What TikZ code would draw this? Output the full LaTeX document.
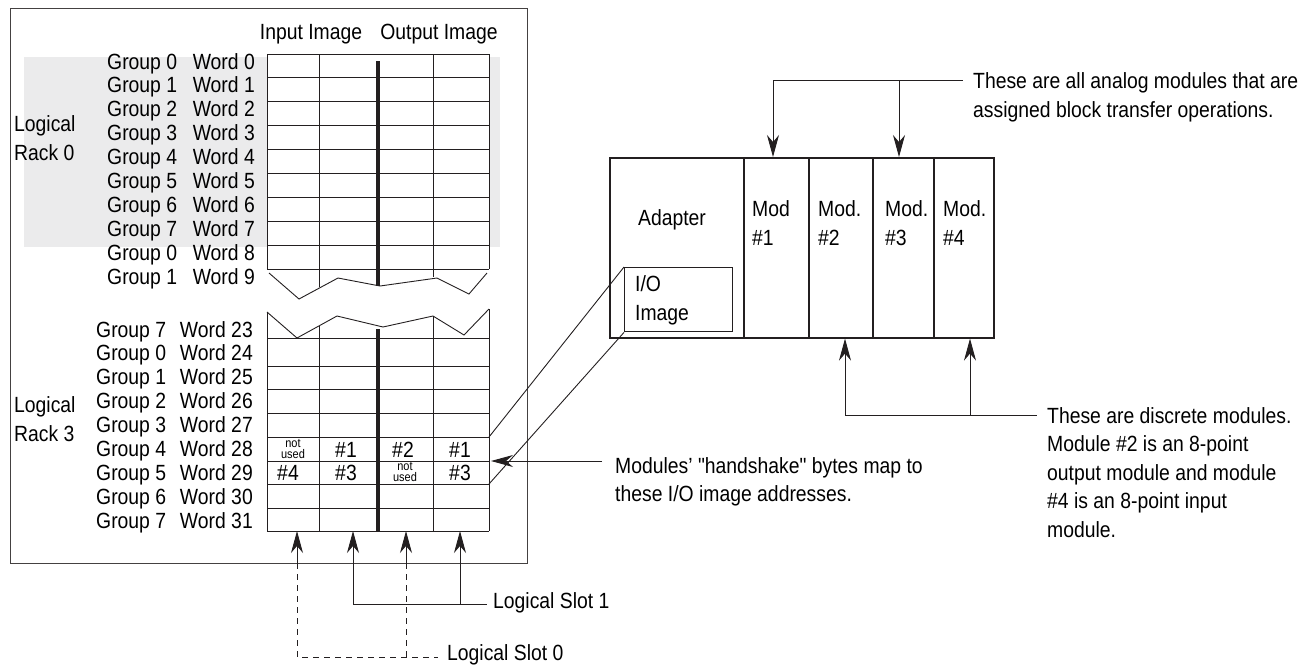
\documentclass[tikz,border=0pt]{standalone}
\usepackage{fontspec}
\setmainfont{Liberation Sans}[FakeStretch=0.88, Ligatures=TeXOff]
\usetikzlibrary{arrows.meta, positioning, calc}

\definecolor{ink}{RGB}{35,31,32}
\definecolor{rackfill}{RGB}{235,235,236}

\begin{document}
\begin{tikzpicture}[x=1pt, y=-1pt,
    txt/.style={inner sep=0pt, font=\fontsize{22}{24}\selectfont},
    note/.style={txt, align=left, anchor=north west, font=\fontsize{22}{28.5}\selectfont},
    small/.style={inner sep=0pt, align=center, font=\fontsize{12.5}{10.5}\selectfont},
    thin/.style={draw=ink, line width=0.9pt},
    bar/.style={draw=ink, line width=3.2pt},
    unit/.style={draw=ink, line width=1.6pt, minimum height=180pt, inner sep=0pt, anchor=north west},
    tip/.style={thin, -{Stealth[length=22pt, width=12pt, inset=7pt]}},
    slotzero/.style={thin, dash pattern=on 6pt off 5pt},
]
  \useasboundingbox (0,0) rectangle (1307,665);

  % image table
  \draw[thin, draw=ink!85] (10,8) rectangle (527,563);
  \fill[rackfill] (24,57) rectangle (500,247);
  \fill[white] (267,54) rectangle (489,269);
  \foreach \r in {0,...,9}
    \draw[thin] (267,{54+23.9*\r}) -- (489,{54+23.9*\r});
  \draw[thin] (267,54) -- (267,269) (489,54) -- (489,269);
  \draw[thin] (319,54) -- (319,287) (433,54) -- (433,277);
  \draw[bar] (378,61) -- (378,286);
  \draw[thin] (269,273) -- (299,299) -- (338,278) -- (380,286) -- (437,278) -- (469,294) -- (487,273);

  \draw[thin] (267,312) -- (297,338) -- (337,316) -- (383,327) -- (433,316) -- (464,335) -- (489,309);
  \foreach \ry in {338,366,389,413,437,461,484,508,531}
    \draw[thin] (267,\ry) -- (489,\ry);
  \draw[thin] (267,312) -- (267,531) (489,309) -- (489,531);
  \draw[thin] (319,326) -- (319,531) (433,316) -- (433,531);
  \draw[bar] (378,329) -- (378,531);

  \node[txt, anchor=base] (hdrin) at (311,39) {Input Image};
  \node[txt, anchor=base] (hdrout) at (439,39) {Output Image};
  \node[txt, align=left, anchor=west, font=\fontsize{22}{29}\selectfont] (rack0) at (14,138) {Logical\\Rack 0};
  \node[txt, align=left, anchor=west, font=\fontsize{22}{29}\selectfont] (rack3) at (14,419) {Logical\\Rack 3};

  \foreach \g [count=\k from 0] in {0,1,2,3,4,5,6,7,0,1} {
    \node[txt, anchor=base west] (ug\k) at (107,{69+23.9*\k}) {Group \g};
    \node[txt, anchor=base east] (uw\k) at (255,{69+23.9*\k}) {Word \k};
  }
  \foreach \g [count=\k from 0] in {7,0,1,2,3,4,5,6,7} {
    \pgfmathtruncatemacro\w{23+\k}
    \node[txt, anchor=base west] (lg\k) at (96,{337+23.9*\k}) {Group \g};
    \node[txt, anchor=base east] (lw\k) at (253,{337+23.9*\k}) {Word \w};
  }

  % handshake bytes
  \node[small] (na) at (293,449) {not\\used};
  \node[txt, anchor=base] (ca) at (346,457) {\#1};
  \node[txt, anchor=base] (cb) at (403,457) {\#2};
  \node[txt, anchor=base] (cc) at (460,457) {\#1};
  \node[txt, anchor=base] (cd) at (288,480.5) {\#4};
  \node[txt, anchor=base] (ce) at (346,480.5) {\#3};
  \node[small] (nb) at (405,472) {not\\used};
  \node[txt, anchor=base] (cf) at (460,480.5) {\#3};

  % logical slots
  \coordinate (s0a) at (297,657);
  \coordinate (s0b) at (406,657);
  \coordinate (s1a) at (353,604);
  \coordinate (s1b) at (460,604);
  \node[txt, anchor=west] (slot1) at (493,603) {Logical Slot 1};
  \node[txt, anchor=west] (slot0) at (447,655) {Logical Slot 0};
  \draw[slotzero] (s0a |- 0,563) -- (s0a) -- (s0b) -- ([xshift=-9pt]slot0.west |- s0b);
  \draw[slotzero] (s0b |- 0,563) -- (s0b);
  \draw[tip] (s0a |- 0,563) -- (s0a |- 0,531);
  \draw[tip] (s0b |- 0,563) -- (s0b |- 0,531);
  \draw[tip] (s1a) -- (s1a |- 0,531);
  \draw[tip] (s1b) -- (s1b |- 0,531);
  \draw[thin] (s1a) -- ([xshift=-6pt]slot1.west |- s1a);

  % rack
  \node[unit, minimum width=134pt] (adapter) at (609,157) {};
  \node[unit, minimum width=65pt] (mod1) at (743,157) {};
  \node[unit, minimum width=64pt] (mod2) at (808,157) {};
  \node[unit, minimum width=61pt] (mod3) at (872,157) {};
  \node[unit, minimum width=60pt] (mod4) at (933,157) {};
  \node[draw=ink, line width=1.4pt, minimum width=108pt, minimum height=64pt, inner sep=0pt, anchor=north west] (ioimg) at (624,267) {};
  \node[txt] (adtxt) at (672,220) {Adapter};
  \node[note, font=\fontsize{22}{29}\selectfont] (iotxt) at (635,275) {I/O\\Image};
  \node[note, font=\fontsize{22}{29}\selectfont] (m1txt) at (752,200) {Mod\\\#1};
  \node[note, font=\fontsize{22}{29}\selectfont] (m2txt) at (818,200) {Mod.\\\#2};
  \node[note, font=\fontsize{22}{29}\selectfont] (m3txt) at (885,200) {Mod.\\\#3};
  \node[note, font=\fontsize{22}{29}\selectfont] (m4txt) at (943,200) {Mod.\\\#4};

  \draw[thin] (489,437) -- (ioimg.north west);
  \draw[thin] (489,484) -- (ioimg.south west);

  % callouts
  \node[note, font=\fontsize{22}{29}\selectfont] (analog) at (973,72) {These are all analog modules that are\\assigned block transfer operations.};
  \coordinate (an1) at (773,80);
  \coordinate (an3) at (899,80);
  \draw[thin] (an1) -- ([xshift=-10pt]analog.west |- an1);
  \draw[tip] (an1) -- (an1 |- mod1.north);
  \draw[tip] (an3) -- (an3 |- mod3.north);

  \node[note] (discrete) at (1047,407) {These are discrete modules.\\Module \#2 is an 8-point\\output module and module\\\#4 is an 8-point input\\module.};
  \coordinate (di2) at (845,415);
  \coordinate (di4) at (970,415);
  \draw[thin] (di2) -- ([xshift=-10pt]discrete.west |- di2);
  \draw[tip] (di2) -- (di2 |- mod2.south);
  \draw[tip] (di4) -- (di4 |- mod4.south);

  \node[note] (handshake) at (615,457) {Modules’ "handshake" bytes map to\\these I/O image addresses.};
  \coordinate (hs) at (491,461);
  \draw[tip] (handshake.west |- hs) ++(-13,0) -- (hs);
\end{tikzpicture}
\end{document}
